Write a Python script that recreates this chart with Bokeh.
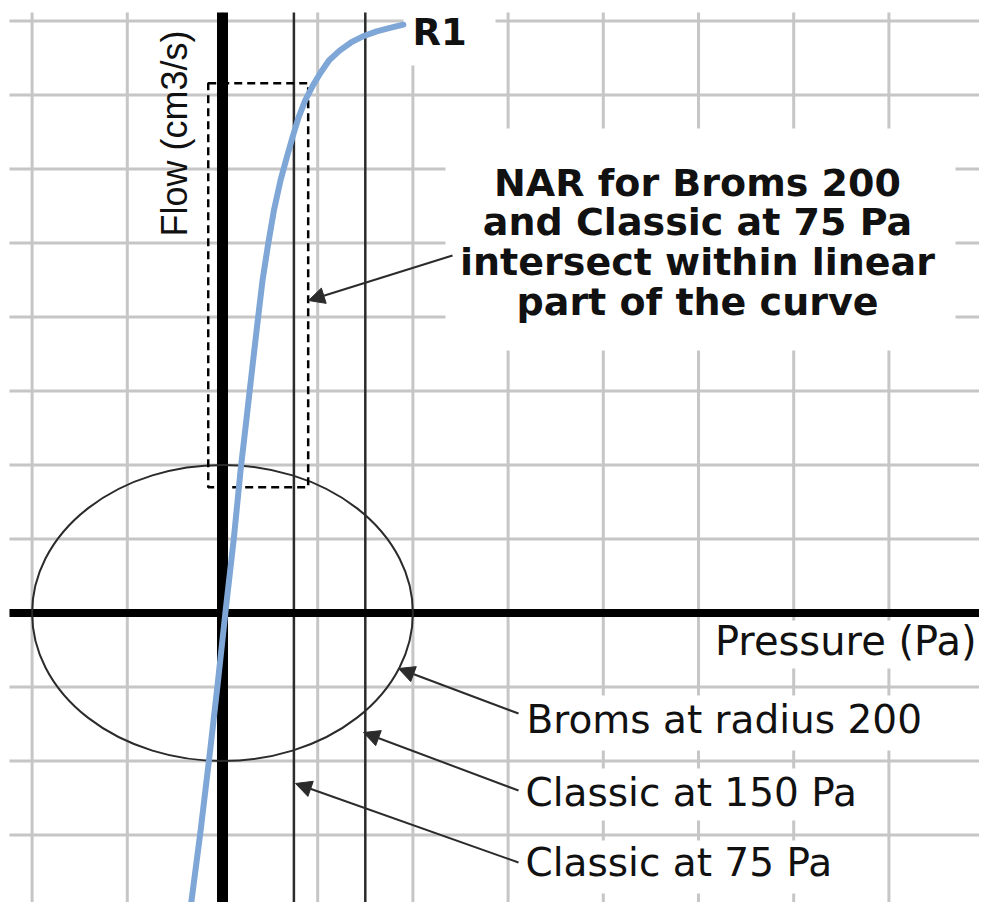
import numpy as np
from bokeh.plotting import figure
from bokeh.models import Range1d, Label, Arrow, NormalHead
from bokeh.embed import file_html
from bokeh.resources import INLINE

# ---------------- data ----------------
pressure_grid = [-200, -100, 0, 100, 200, 300, 400, 500, 600, 700, 800]
flow_grid = [-400, -300, -200, -100, 0, 100, 200, 300, 400, 500, 600, 700, 800]

# R1 resistance curve (pressure Pa, flow)
r1_pressure = [-35, -23, -13, -5, 3, 12, 19, 25, 31, 37, 42, 48, 54, 61, 68, 74, 80, 87,
               95, 103, 112, 123, 135, 147, 162, 177, 190]
r1_flow = [-413, -294, -186, -95, 0, 102, 193, 260, 328, 395, 449, 499, 544, 585, 618,
           645, 670, 693, 713, 730, 747, 760, 771, 779, 786, 791, 795]

classic_pressures = [75, 150]          # Classic at 75 Pa, Classic at 150 Pa
broms_radius = 200                     # Broms at radius 200

nar_left, nar_right = -15, 90          # NAR dashed box
nar_bottom, nar_top = 170, 716

# ---------------- layout helpers (reference pixel -> data) ----------------
PX0, PXS = 222.0, 0.952
PY0, PYS = 612.5, 0.74


def dx(px):
    return (px - PX0) / PXS


def dy(py):
    return (PY0 - py) / PYS


W, H = 979, 902
X_START, X_END = dx(0), dx(W)
Y_START, Y_END = dy(H), dy(0)

p = figure(width=W, height=H, x_range=Range1d(X_START, X_END), y_range=Range1d(Y_START, Y_END),
           x_axis_type=None, y_axis_type=None, toolbar_location=None, output_backend="svg",
           min_border=0, outline_line_color=None, background_fill_color="white")

GRID_COLOR = "#c6c6c6"
# grid lines
p.segment(x0=pressure_grid, x1=pressure_grid, y0=[Y_START] * len(pressure_grid),
          y1=[dy(12)] * len(pressure_grid), line_color=GRID_COLOR, line_width=3)
p.segment(x0=[dx(9)] * len(flow_grid), x1=[X_END] * len(flow_grid), y0=flow_grid, y1=flow_grid,
          line_color=GRID_COLOR, line_width=3)

# white label backgrounds (cover grid)
boxes_px = [
    (403, -10, 495, 65),     # R1
    (445, 128, 955, 350),    # NAR text
    (700, 620, 985, 668),    # Pressure (Pa)
    (520, 695, 940, 750),    # Broms
    (520, 768, 880, 820),    # Classic 150
    (520, 840, 860, 893),    # Classic 75
]
p.quad(left=[dx(b[0]) for b in boxes_px], right=[dx(b[2]) for b in boxes_px],
       top=[dy(b[1]) for b in boxes_px], bottom=[dy(b[3]) for b in boxes_px],
       fill_color="white", line_color=None)

# Classic vertical lines
p.segment(x0=classic_pressures, x1=classic_pressures, y0=[Y_START] * 2, y1=[dy(12)] * 2,
          line_color="#2b2b2b", line_width=2.5)

# thick axes
p.segment(x0=[dx(9)], x1=[X_END], y0=[0], y1=[0], line_color="black", line_width=8)
p.segment(x0=[0], x1=[0], y0=[Y_START], y1=[dy(12)], line_color="black", line_width=11)

# Broms circle
p.ellipse(x=[0], y=[0], width=[2 * broms_radius], height=[2 * broms_radius],
          fill_color=None, line_color="#2b2b2b", line_width=2)

# NAR dashed box
p.quad(left=[nar_left], right=[nar_right], bottom=[nar_bottom], top=[nar_top],
       fill_color=None, line_color="black", line_width=2.5, line_dash="8 5")

# R1 curve
p.line(r1_pressure, r1_flow, line_color="#7ea6d6", line_width=6, line_cap="round",
       line_join="round")

# arrows
arrows_px = [
    (452, 255, 308, 300),
    (518, 713, 398, 668),
    (518, 790, 363, 732),
    (518, 862, 295, 783),
]
for (sx, sy, ex, ey) in arrows_px:
    p.add_layout(Arrow(x_start=dx(sx), y_start=dy(sy), x_end=dx(ex), y_end=dy(ey),
                       line_color="#2b2b2b", line_width=2,
                       end=NormalHead(size=16, fill_color="#2b2b2b", line_color="#2b2b2b")))

FONT = "DejaVu Sans"
TXT = "#111111"
BL = 14  # baseline correction (px)

# labels
p.add_layout(Label(x=dx(412), y=dy(46 - BL), text="R1", text_font=FONT, text_font_style="bold",
                   text_font_size="37px", text_color=TXT, text_baseline="alphabetic"))

nar_lines = ["NAR for Broms 200", "and Classic at 75 Pa", "intersect within linear", "part of the curve"]
nar_baselines = [196, 235, 275, 315]
for t, b in zip(nar_lines, nar_baselines):
    p.add_layout(Label(x=dx(697), y=dy(b - BL), text=t, text_font=FONT, text_font_style="bold",
                       text_font_size="38px", text_color=TXT, text_align="center",
                       text_baseline="alphabetic"))

p.add_layout(Label(x=dx(976), y=dy(654 - BL), text="Pressure (Pa)", text_font=FONT,
                   text_font_size="40px", text_color=TXT, text_align="right",
                   text_baseline="alphabetic"))

side_labels = ["Broms at radius 200", "Classic at 150 Pa", "Classic at 75 Pa"]
side_baselines = [733, 806, 876]
side_x = [526, 525, 525]
for t, b, x in zip(side_labels, side_baselines, side_x):
    p.add_layout(Label(x=dx(x), y=dy(b - BL), text=t, text_font=FONT, text_font_size="39px",
                       text_color=TXT, text_baseline="alphabetic"))

p.add_layout(Label(x=dx(188 - BL), y=dy(236), text="Flow (cm3/s)", angle=np.pi / 2,
                   text_font="Liberation Sans", text_font_size="36px", text_color=TXT,
                   text_baseline="alphabetic"))

open("out.html", "w").write(file_html(p, INLINE))
